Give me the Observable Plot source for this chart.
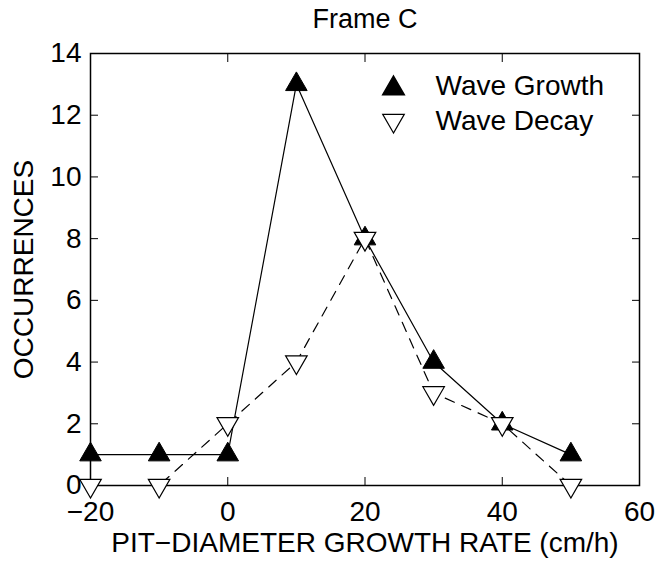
<!DOCTYPE html>
<html>
<head>
<meta charset="utf-8">
<script src="https://cdn.jsdelivr.net/npm/d3@7"></script>
<script src="https://cdn.jsdelivr.net/npm/@observablehq/plot@0.6"></script>
<style>
  html, body { margin: 0; padding: 0; background: white; }
</style>
</head>
<body>
<div id="chart"></div>
<script>
const rates = [-20, -10, 0, 10, 20, 30, 40, 50];
const growth = [1, 1, 1, 13, 8, 4, 2, 1];
const decay = [0, 0, 2, 4, 8, 3, 2, 0];
const xTicks = [-20, 0, 20, 40, 60];
const yTicks = [0, 2, 4, 6, 8, 10, 12, 14];
const title = "Frame C";
const xLabel = "PIT\u2212DIAMETER GROWTH RATE (cm/h)";
const yLabel = "OCCURRENCES";
const seriesNames = ["Wave Growth", "Wave Decay"];

const growthData = rates.map((r, i) => ({x: r, y: growth[i]}));
const decayData = rates.map((r, i) => ({x: r, y: decay[i]}));

const font = "'Liberation Sans', Arial, Helvetica, sans-serif";

const chart = Plot.plot({
  width: 670,
  height: 563,
  marginLeft: 90,
  marginRight: 31,
  marginTop: 53,
  marginBottom: 78,
  style: {fontFamily: font, fontSize: "28px", color: "black", background: "white", overflow: "visible"},
  x: {domain: [-20, 60]},
  y: {domain: [0, 14]},
  marks: [
    Plot.line(growthData, {x: "x", y: "y", stroke: "black", strokeWidth: 1.2}),
    Plot.line(decayData, {x: "x", y: "y", stroke: "black", strokeWidth: 1.2, strokeDasharray: "10,8"}),
    Plot.frame({stroke: "black", strokeWidth: 1.5}),
    Plot.axisX({ticks: xTicks, tickSize: -8, tickPadding: 24, fontSize: 28, label: null}),
    Plot.axisX({ticks: [], label: xLabel, labelAnchor: "center", labelArrow: "none", labelOffset: 66, fontSize: 28}),
    Plot.axisX({anchor: "top", ticks: xTicks, tickSize: -8, tickFormat: () => "", label: null}),
    Plot.axisY({ticks: yTicks, tickSize: -8, tickPadding: 17, fontSize: 28, label: null}),
    Plot.axisY({ticks: [], label: yLabel, labelAnchor: "center", labelArrow: "none", labelOffset: 77, fontSize: 28}),
    Plot.axisY({anchor: "right", ticks: yTicks, tickSize: -8, tickFormat: () => "", label: null}),
    Plot.dot(growthData, {x: "x", y: "y", symbol: "triangle", r: 8, fill: "black", stroke: "black", strokeWidth: 1}),
    Plot.dot(decayData, {x: "x", y: "y", symbol: "triangle", r: 8, rotate: 180, fill: "white", stroke: "black", strokeWidth: 1.2}),
    Plot.text([title], {frameAnchor: "top", dy: -34, lineAnchor: "middle", fontSize: 27, fill: "black"}),
    Plot.dot([seriesNames[0]], {frameAnchor: "top-left", dx: 303, dy: 35, symbol: "triangle", r: 8, fill: "black", stroke: "black"}),
    Plot.dot([seriesNames[1]], {frameAnchor: "top-left", dx: 303, dy: 67, symbol: "triangle", r: 8, rotate: 180, fill: "white", stroke: "black", strokeWidth: 1.2}),
    Plot.text([seriesNames[0]], {frameAnchor: "top-left", dx: 345, dy: 33, lineAnchor: "middle", text: d => d, textAnchor: "start", fontSize: 28, fill: "black"}),
    Plot.text([seriesNames[1]], {frameAnchor: "top-left", dx: 345, dy: 68, lineAnchor: "middle", text: d => d, textAnchor: "start", fontSize: 28, fill: "black"})
  ]
});
document.getElementById("chart").appendChild(chart);
</script>
</body>
</html>
